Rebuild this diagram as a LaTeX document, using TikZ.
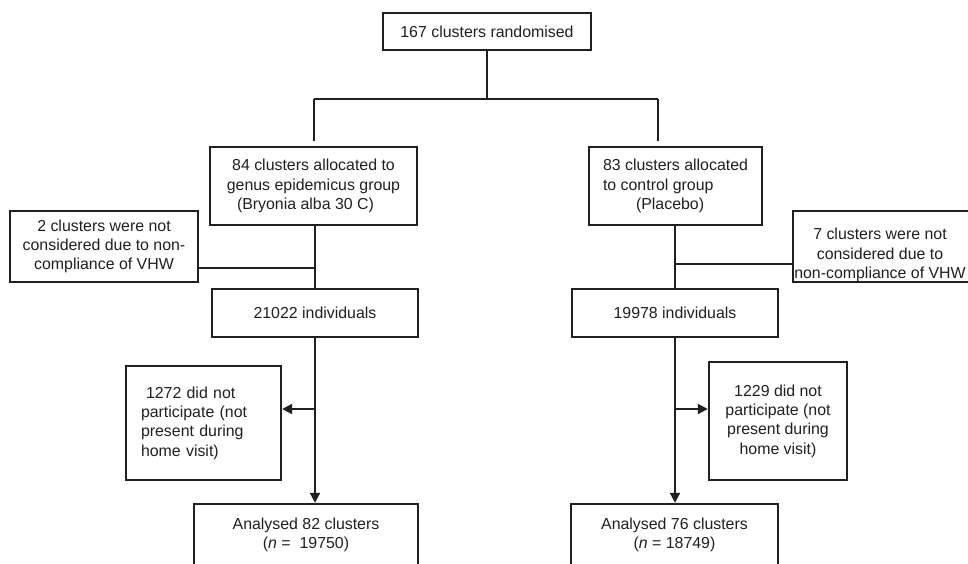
\documentclass[tikz,border=0pt]{standalone}
\usepackage{fontspec}
\setmainfont{Liberation Sans}
\usetikzlibrary{arrows.meta}
\definecolor{ink}{HTML}{231F20}
\tikzset{
  box/.style={draw=ink, line width=2.4pt, rectangle, inner sep=0pt, align=center,
    font=\fontsize{15.9}{19.3}\selectfont, text=ink},
  txt/.style={inner sep=0pt, align=center, font=\fontsize{15.9}{19.3}\selectfont, text=ink},
  conn/.style={draw=ink, line width=2.1pt},
  arr/.style={conn, -{Triangle[width=10pt,length=10pt]}}
}
\begin{document}
\begin{tikzpicture}[x=1pt,y=-1pt]
\useasboundingbox (0,0) rectangle (968,563);
\clip (0,0) rectangle (968,563);
\fill[white] (0,0) rectangle (968,563);

\node[box, minimum width=208pt, minimum height=37pt] (top) at (487,31.5) {167 clusters randomised};

\node[box, minimum width=207pt, minimum height=78pt] (g1) at (313.5,186)
  {84 clusters allocated to\\genus epidemicus group\\(Bryonia alba 30 C)\hspace*{16pt}};
\node[box, minimum width=173pt, minimum height=78pt, align=left] (g2) at (675.5,186)
  {83 clusters allocated\\to control group\\\hspace*{33pt}(Placebo)};

\node[box, minimum width=188pt, minimum height=71pt] (c2) at (104,246.5)
  {2 clusters were not\\considered due to non-\\compliance of VHW};
\node[box, minimum width=182pt, minimum height=71pt] (c7) at (884,246.5) {};
\node[txt] (c7t) at (880,255) {7 clusters were not\\considered due to\\non-compliance of VHW};

\node[box, minimum width=206pt, minimum height=48pt] (ind1) at (315,313) {21022 individuals};
\node[box, minimum width=206pt, minimum height=48pt] (ind2) at (675,313) {19978 individuals};

\node[box, minimum width=155pt, minimum height=114pt, align=left, text width=125pt, inner xsep=15pt] (b1272) at (203.5,423)
  {\hspace*{5pt}1272 did not\\participate (not\\present during\\home visit)};
\node[box, minimum width=138pt, minimum height=118pt] (b1229) at (778,421)
  {1229 did not\\participate (not\\present during\\home visit)};

\node[box, minimum width=224pt, minimum height=66pt] (an1) at (306,537)
  {Analysed 82 clusters\\(\textit{n} =\ \ 19750)\rule[-7pt]{0pt}{7pt}};
\node[box, minimum width=207pt, minimum height=66pt] (an2) at (674.5,537)
  {Analysed 76 clusters\\(\textit{n} = 18749)\rule[-7pt]{0pt}{7pt}};

% branch from top
\coordinate (bl) at (314,99);
\coordinate (br) at (658,99);
\coordinate (ble) at (314,141);
\coordinate (bre) at (658,141);
\draw[conn] (top.south) -- (top.south |- bl);
\draw[conn] (bl) -- (br);
\draw[conn] (bl) -- (ble);
\draw[conn] (br) -- (bre);

% left arm
\draw[conn] (ind1.north |- g1.south) -- (ind1.north);
\coordinate (e1) at (315,268);
\draw[conn] (e1 -| c2.east) -- (e1);
\coordinate (j1) at (315,409);
\draw[arr] (ind1.south) -- (ind1.south |- an1.north);
\draw[arr] (j1) -- (j1 -| b1272.east);

% right arm
\draw[conn] (ind2.north |- g2.south) -- (ind2.north);
\coordinate (e2) at (675,264);
\draw[conn] (e2) -- (e2 -| c7.west);
\coordinate (j2) at (675,409);
\draw[arr] (ind2.south) -- (ind2.south |- an2.north);
\draw[arr] (j2) -- (j2 -| b1229.west);
\end{tikzpicture}
\end{document}
